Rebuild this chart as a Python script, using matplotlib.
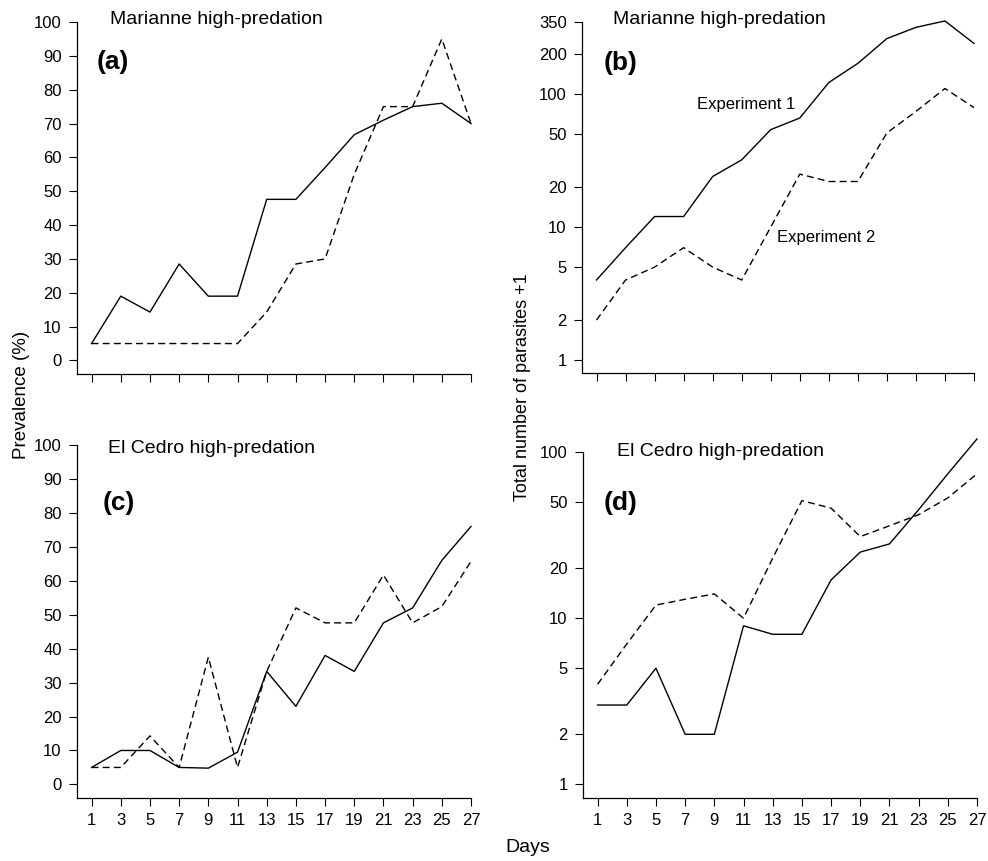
import matplotlib.pyplot as plt
import numpy as np

plt.rcParams['font.family'] = ['Liberation Sans', 'DejaVu Sans']

# days sampled
days = [1, 3, 5, 7, 9, 11, 13, 15, 17, 19, 21, 23, 25, 27]

# (a) Marianne prevalence (%)
mar_prev_exp1 = [5, 19, 14.3, 28.5, 19, 19, 47.6, 47.6, 57, 66.7, 71, 75, 76, 70]
mar_prev_exp2 = [5, 5, 5, 5, 5, 5, 14.3, 28.5, 30, 55, 75, 75, 95, 70]

# (b) Marianne total parasites + 1
mar_par_exp1 = [4, 7, 12, 12, 24, 32, 54, 66, 122, 170, 261, 317, 354, 240]
mar_par_exp2 = [2, 4, 5, 7, 5, 4, 10, 25, 22, 22, 51, 74, 110, 79]

# (c) El Cedro prevalence (%)
ced_prev_exp1 = [5, 10, 10, 5, 4.8, 9.5, 33.3, 23, 38, 33.3, 47.6, 52, 66, 76]
ced_prev_exp2 = [5, 5, 14.3, 5, 37.5, 5, 33.3, 52, 47.6, 47.6, 61.7, 47.6, 52.4, 65.7]

# (d) El Cedro total parasites + 1
ced_par_exp1 = [3, 3, 5, 2, 2, 9, 8, 8, 17, 25, 28, 45, 74, 120]
ced_par_exp2 = [4, 7, 12, 13, 14, 10, 23, 51, 46, 31, 36, 42, 53, 74]

prev_ticks = [0, 10, 20, 30, 40, 50, 60, 70, 80, 90, 100]
log_ticks_b = [1, 2, 5, 10, 20, 50, 100, 200, 350]
log_ticks_d = [1, 2, 5, 10, 20, 50, 100]

W, H = 988, 861
fig = plt.figure(figsize=(9.88, 8.61), dpi=100)


def px_axes(left, right, bottom, top):
    return fig.add_axes([left / W, 1 - bottom / H, (right - left) / W, (bottom - top) / H])


def style(ax, show_x):
    for s in ['top', 'right']:
        ax.spines[s].set_visible(False)
    for s in ['left', 'bottom']:
        ax.spines[s].set_linewidth(0.9)
    ax.set_xlim(0, 27)
    ax.spines['bottom'].set_bounds(0, 27)
    ax.set_xticks(days)
    ax.tick_params(direction='out', length=6, width=0.8, labelsize=12, pad=5)
    ax.tick_params(axis='y', which='minor', left=False)
    if show_x:
        ax.set_xticklabels([str(d) for d in days])
    else:
        ax.set_xticklabels([])


def draw(ax, y1, y2):
    ax.plot(days, y1, color='black', lw=1.0, clip_on=False)
    ax.plot(days, y2, color='black', lw=1.0, ls=(0, (5, 3)), clip_on=False)


# panel (a)
ax_a = px_axes(77, 471, 374, 22)
draw(ax_a, mar_prev_exp1, mar_prev_exp2)
style(ax_a, False)
ax_a.set_ylim(-4, 100)
ax_a.set_yticks(prev_ticks)

# panel (b)
ax_b = px_axes(582, 974, 373, 20)
draw(ax_b, mar_par_exp1, mar_par_exp2)
ax_b.set_yscale('log')
style(ax_b, False)
ax_b.set_ylim(0.8, 360)
ax_b.spines['left'].set_bounds(0.8, 350)
ax_b.set_yticks(log_ticks_b)
ax_b.set_yticklabels([str(v) for v in log_ticks_b])
ax_b.text(11.3, 83, 'Experiment 1', fontsize=12, ha='center', va='center')
ax_b.text(16.8, 8.3, 'Experiment 2', fontsize=12, ha='center', va='center')

# panel (c)
ax_c = px_axes(77, 471, 798, 445)
draw(ax_c, ced_prev_exp1, ced_prev_exp2)
style(ax_c, True)
ax_c.set_ylim(-4, 100)
ax_c.set_yticks(prev_ticks)

# panel (d)
ax_d = px_axes(583, 977, 798, 436)
draw(ax_d, ced_par_exp1, ced_par_exp2)
ax_d.set_yscale('log')
style(ax_d, True)
ax_d.set_ylim(0.827, 125)
ax_d.spines['left'].set_bounds(0.827, 100)
ax_d.set_yticks(log_ticks_d)
ax_d.set_yticklabels([str(v) for v in log_ticks_d])

# titles and panel letters
fig.text(110 / W, 1 - 20 / H, 'Marianne high-predation', fontsize=14, va='center')
fig.text(613 / W, 1 - 20 / H, 'Marianne high-predation', fontsize=14, va='center')
fig.text(108 / W, 1 - 448 / H, 'El Cedro high-predation', fontsize=14, va='center')
fig.text(617 / W, 1 - 452 / H, 'El Cedro high-predation', fontsize=14, va='center')

fig.text(97 / W, 1 - 62 / H, '(a)', fontsize=19, fontweight='bold', va='center')
fig.text(604 / W, 1 - 63 / H, '(b)', fontsize=19, fontweight='bold', va='center')
fig.text(103 / W, 1 - 503 / H, '(c)', fontsize=19, fontweight='bold', va='center')
fig.text(604 / W, 1 - 503 / H, '(d)', fontsize=19, fontweight='bold', va='center')

# shared axis labels
fig.text(22 / W, 1 - 395 / H, 'Prevalence (%)', fontsize=13.5, rotation=90, ha='center', va='center')
fig.text(522 / W, 1 - 387 / H, 'Total number of parasites +1', fontsize=13, rotation=90,
         ha='center', va='center')
fig.text(528 / W, 1 - 848 / H, 'Days', fontsize=14, ha='center', va='center')

plt.savefig('out.png', dpi=100)
